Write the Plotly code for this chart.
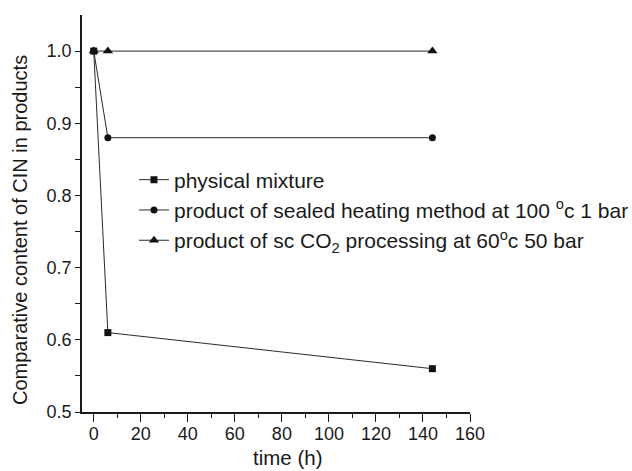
import plotly.graph_objects as go

time_h = [0, 6, 144]
physical = [1.0, 0.61, 0.56]
sealed = [1.0, 0.88, 0.88]
sc_co2 = [1.0, 1.0, 1.0]

names = [
    "physical mixture",
    "product of sealed heating method at 100 <sup>o</sup>c 1 bar",
    "product of sc CO<sub>2</sub> processing at 60<sup>o</sup>c 50 bar",
]
symbols = ["square", "circle", "triangle-up"]
marker_sizes = [7, 7, 9]
series = [physical, sealed, sc_co2]
x_ticks = [0, 20, 40, 60, 80, 100, 120, 140, 160]
y_ticks = [0.5, 0.6, 0.7, 0.8, 0.9, 1.0]
y_ticktext = ["0.5", "0.6", "0.7", "0.8", "0.9", "1.0"]

fig = go.Figure()
for i, (nm, sym, ms, ys) in enumerate(zip(names, symbols, marker_sizes, series)):
    fig.add_trace(go.Scatter(
        x=time_h, y=ys, name=nm, mode="lines+markers",
        legendgroup=f"g{i}",
        line=dict(color="#2a2a2a", width=1),
        marker=dict(symbol=sym, size=ms, color="#111111"),
    ))

font = "Liberation Sans, Arial, sans-serif"
fig.update_layout(
    width=632, height=471,
    margin=dict(l=82, r=162, t=15, b=59, autoexpand=False),
    paper_bgcolor="white", plot_bgcolor="white",
    font=dict(family=font, size=18, color="#1a1a1a"),
    showlegend=True,
    legend=dict(x=0.134, y=0.636, xanchor="left", yanchor="top",
                bgcolor="rgba(0,0,0,0)", borderwidth=0,
                font=dict(size=21), tracegroupgap=0, traceorder="grouped",
                itemwidth=30),
    xaxis=dict(range=[-5, 160], tickvals=x_ticks, automargin=False,
               ticks="outside", ticklen=8, tickwidth=1.3, tickcolor="#1a1a1a",
               showline=True, linecolor="#1a1a1a", linewidth=1.6, mirror=False,
               showgrid=False, zeroline=False, ticklabelstandoff=-3,
               minor=dict(tickvals=[10, 30, 50, 70, 90, 110, 130, 150], ticks="outside",
                          ticklen=4, tickcolor="#1a1a1a", tickwidth=1.3),
               tickfont=dict(size=18)),
    yaxis=dict(range=[0.5, 1.05], tickvals=y_ticks, ticktext=y_ticktext, automargin=False,
               ticks="outside", ticklen=5, tickwidth=1.3, tickcolor="#1a1a1a",
               showline=True, linecolor="#1a1a1a", linewidth=1.6, mirror=False,
               showgrid=False, zeroline=False,
               minor=dict(tickvals=[0.55, 0.65, 0.75, 0.85, 0.95], ticks="outside",
                          ticklen=5, tickcolor="#1a1a1a", tickwidth=1.3),
               tickfont=dict(size=18)),
    annotations=[
        dict(text="time (h)", xref="paper", yref="paper",
             x=(287 - 82) / 388, y=-(457 - 412) / 397,
             xanchor="center", yanchor="middle", showarrow=False,
             font=dict(size=20.5)),
        dict(text="Comparative content of CIN in products", xref="paper", yref="paper",
             x=-(82 - 20) / 388, y=(412 - 230) / 397, textangle=-90,
             xanchor="center", yanchor="middle", showarrow=False,
             font=dict(size=20)),
    ],
)

fig.write_html("out.html")
